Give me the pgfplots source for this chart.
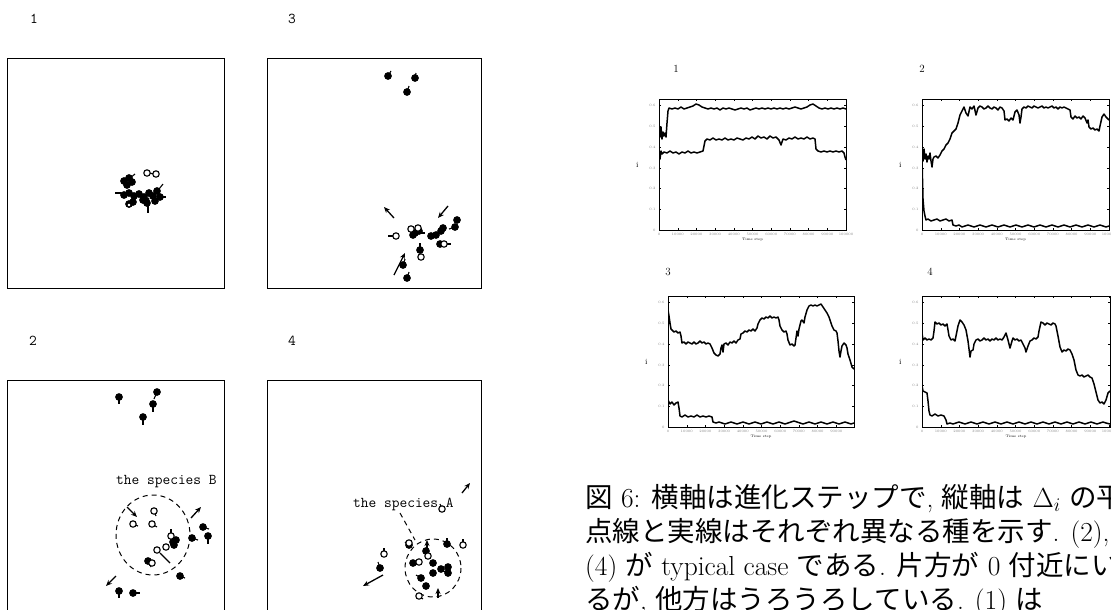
\RequirePackage{fix-cm}
\documentclass[border=0pt]{standalone}
\usepackage{fontspec}
\usepackage{pgfplots}
\pgfplotsset{compat=1.18}
\usetikzlibrary{arrows.meta}
\newfontfamily\cjk{Noto Sans CJK JP}
\newcommand\capfont{\fontsize{27.5}{30}\selectfont}
\pgfplotsset{
  leftpanel/.style={scale only axis, anchor=north west, y dir=reverse, ticks=none,
    axis line style={line width=1pt}, clip=false},
  fil/.style={only marks, mark=*, mark size=3.6pt, mark options={fill=black, draw=black}},
  opn/.style={only marks, mark=*, mark size=3.2pt, mark options={fill=white, draw=black, line width=1.1pt}},
  tail/.style={black, line width=1.1pt, quiver={u=\thisrow{u}, v=\thisrow{v}}},
  arr/.style={black, line width=1.3pt, quiver={u=\thisrow{u}, v=\thisrow{v}}, -{Stealth[length=6pt,width=5pt]}},
  ser/.style={black, line width=1.5pt, line join=round, mark=none},
  rightpanel/.style={scale only axis, anchor=north west, y dir=reverse, xmin=0, ymin=0, ymax=131,
    axis line style={line width=0.8pt}, tick align=inside, major tick length=2pt,
    tick style={line width=0.4pt, black},
    xtick={0,18.7,37.4,56.1,74.8,93.5,112.2,130.9,149.6,168.3,187},
    xticklabels={0,10000,20000,30000,40000,50000,60000,70000,80000,90000,100000},
    ytick={6,27,48,69,89,110,131},
    yticklabels={0.6,0.5,0.4,0.3,0.2,0.1,0},
    ticklabel style={font=\fontsize{3.5}{3.5}\selectfont, text=gray},
    xlabel={Time step}, xlabel style={font=\fontsize{3.5}{3.5}\selectfont, yshift=5pt},
    ylabel={i}, ylabel style={rotate=-90, font=\fontsize{8}{8}\selectfont, xshift=-4pt}},
}
\begin{document}
\begin{tikzpicture}
\path[use as bounding box] (0pt,0pt) rectangle (1111pt,-610pt);
\clip (0pt,0pt) rectangle (1111pt,-610pt);

% panel labels
\node[font=\ttfamily\fontsize{15}{15}\selectfont] at (34pt,-19pt) {1};
\node[font=\ttfamily\fontsize{15}{15}\selectfont] at (292pt,-19pt) {3};
\node[font=\ttfamily\fontsize{15}{15}\selectfont] at (33pt,-341pt) {2};
\node[font=\ttfamily\fontsize{15}{15}\selectfont] at (292pt,-341pt) {4};
\node[font=\fontsize{11}{11}\selectfont] at (676pt,-69pt) {1};
\node[font=\fontsize{11}{11}\selectfont] at (922pt,-69pt) {2};
\node[font=\fontsize{11}{11}\selectfont] at (668pt,-272pt) {3};
\node[font=\fontsize{11}{11}\selectfont] at (930pt,-272pt) {4};

% ---------- panel 1 ----------
\begin{axis}[leftpanel, at={(8pt,-58pt)}, width=216pt, height=230pt,
  xmin=8, xmax=224, ymin=58, ymax=288]
\addplot[tail] table[row sep=\\]{x y u v\\ 147 173 9 1\\ 130 178 5 -4\\ 148 204 0 9\\ 159 189 4 -5\\ 121 193 -6 0\\ 161 197 5 0\\ 131 204 -4 2\\};
\addplot[fil] table[row sep=\\]{x y\\ 124 181\\ 129 178\\ 127 185\\ 132 182\\ 124 195\\ 129 193\\ 134 196\\ 139 194\\ 144 197\\ 149 193\\ 153 196\\ 157 191\\ 160 197\\ 155 201\\ 147 203\\ 143 200\\ 129 204\\ 133 202\\};
\addplot[opn] table[row sep=\\]{x y\\ 147 173\\ 156 174\\};
\addplot[opn, mark size=2pt] table[row sep=\\]{x y\\ 129 205\\};
\addplot[opn, mark size=1.3pt, mark options={line width=0.5pt}] table[row sep=\\]{x y\\ 148 199\\};
\end{axis}

% ---------- panel 3 ----------
\begin{axis}[leftpanel, at={(267pt,-58pt)}, width=214pt, height=230pt,
  xmin=267, xmax=481, ymin=58, ymax=288]
\addplot[tail] table[row sep=\\]{x y u v\\ 388 76 3 -5\\ 415 78 1 -5\\ 407 92 2 -6\\ 396 236 -8 0\\ 444 244 7 0\\ 455 227 -6 2\\ 420 250 0 -7\\ 407 278 2 -6\\ 403 265 2 -6\\ 425 233 -6 0\\};
\addplot[arr] table[row sep=\\]{x y u v\\ 394 218 -10 -11\\ 448 206 -10 12\\ 394 275 11 -22\\};
\addplot[fil] table[row sep=\\]{x y\\ 388 76\\ 415 78\\ 407 92\\ 415 233\\ 419 231\\ 413 235\\ 431 236\\ 436 235\\ 441 231\\ 443 228\\ 440 244\\ 457 220\\ 455 227\\ 420 250\\ 403 265\\ 407 278\\};
\addplot[opn] table[row sep=\\]{x y\\ 396 236\\ 411 229\\ 418 228\\ 444 244\\ 421 257\\};
\end{axis}

% ---------- panel 2 ----------
\begin{axis}[leftpanel, at={(8pt,-380pt)}, width=216pt, height=234pt,
  xmin=8, xmax=224, ymin=380, ymax=614]
\draw[dashed, line width=1pt, dash pattern=on 5pt off 4pt] (axis cs:153,535) ellipse [x radius=37, y radius=40];
\node[font=\ttfamily\fontsize{15}{15}\selectfont, anchor=west, inner sep=0] at (axis cs:116,482) {the species B};
\addplot[tail] table[row sep=\\]{x y u v\\ 119 397 0 7\\ 157 392 -3 7\\ 153 404 0 8\\ 143 417 0 8\\ 154 511 2 5\\ 133 524 5 2\\ 152 524 5 3\\ 160 553 10 10\\ 171 536 0 -7\\ 192 538 6 2\\ 203 527 6 2\\ 208 536 0 8\\ 148 561 3 6\\ 180 576 5 2\\ 119 591 0 7\\ 133 593 7 0\\};
\addplot[arr] table[row sep=\\]{x y u v\\ 127 507 10 10\\ 191 518 10 -11\\ 116 576 -10 10\\};
\addplot[fil] table[row sep=\\]{x y\\ 119 397\\ 157 392\\ 153 404\\ 143 417\\ 173 542\\ 176 540\\ 174 545\\ 192 538\\ 203 527\\ 208 536\\ 148 561\\ 180 576\\ 119 591\\ 133 593\\};
\addplot[opn] table[row sep=\\]{x y\\ 154 511\\ 133 524\\ 152 524\\ 157 550\\ 166 547\\ 171 536\\ 152 563\\};
\end{axis}

% ---------- panel 4 ----------
\begin{axis}[leftpanel, at={(267pt,-380pt)}, width=214pt, height=234pt,
  xmin=267, xmax=481, ymin=380, ymax=614]
\draw[dashed, line width=1pt, dash pattern=on 5pt off 4pt] (axis cs:433,568) ellipse [x radius=28, y radius=29];
\draw[dashed, line width=1pt, dash pattern=on 5pt off 4pt] (axis cs:400,513) -- (axis cs:415,540);
\node[font=\ttfamily\fontsize{15}{15}\selectfont, anchor=west, inner sep=0] at (axis cs:353,504) {the species A};
\addplot[tail] table[row sep=\\]{x y u v\\ 442 509 -2 -5\\ 463 545 0 -6\\ 384 554 0 -6\\ 419 596 4 3\\ 428 556 -3 -5\\ 380 568 -2 -6\\ 409 545 -4 -3\\ 447 544 0 -6\\ 421 578 -5 -3\\ 441 569 4 3\\};
\addplot[arr] table[row sep=\\]{x y u v\\ 462 493 8 -10\\ 383 575 -20 11\\ 427 550 0 -10\\ 438 598 0 -10\\};
\addplot[fil] table[row sep=\\]{x y\\ 380 568\\ 409 545\\ 447 544\\ 426 551\\ 413 563\\ 433 563\\ 433 573\\ 441 569\\ 448 567\\ 448 573\\ 421 578\\ 426 586\\};
\addplot[opn] table[row sep=\\]{x y\\ 442 509\\ 463 545\\ 384 554\\ 419 596\\ 428 556\\ 419 562\\ 409 543\\};
\end{axis}

% ---------- right panel 1 ----------
\begin{axis}[rightpanel, at={(659pt,-99pt)}, width=187pt, height=131pt, xmax=187]
\addplot[ser] coordinates {(0,30)(1,38)(2,28)(3,40)(4,33)(5,37)(6,34)(7,38)(8,24)(9,12)(10,9)(13,10)(16,9)(19,10)(22,8)(25,10)(28,9)(31,8)(34,7)(37,5)(40,6)(43,8)(46,9)(49,10)(52,9)(55,10)(58,9)(61,11)(64,9)(67,10)(70,9)(73,10)(76,11)(79,10)(82,9)(85,10)(88,9)(91,11)(94,10)(97,9)(100,10)(103,9)(106,10)(109,9)(112,10)(115,9)(118,10)(121,9)(124,10)(127,9)(130,10)(133,9)(136,8)(139,9)(142,10)(145,9)(148,8)(151,6)(154,5)(157,7)(160,9)(163,10)(166,9)(169,10)(172,9)(175,10)(178,9)(181,10)(184,9)(187,10)};
\addplot[ser] coordinates {(0,50)(1,60)(2,52)(3,55)(5,53)(8,54)(11,52)(14,54)(17,53)(20,55)(23,53)(26,54)(29,52)(32,54)(35,53)(38,54)(41,53)(44,52)(46,42)(48,40)(51,41)(54,39)(57,41)(60,40)(63,41)(66,39)(69,41)(72,40)(75,41)(78,39)(81,40)(84,41)(87,39)(90,40)(93,38)(96,40)(99,37)(102,39)(105,38)(108,40)(111,37)(114,39)(117,38)(120,41)(122,46)(124,40)(127,41)(130,39)(133,40)(136,38)(139,40)(142,39)(145,40)(148,38)(151,40)(154,39)(156,40)(157,50)(159,52)(162,53)(165,52)(168,53)(171,52)(174,53)(177,52)(180,53)(183,52)(185,54)(186,58)(187,61)};
\end{axis}

% ---------- right panel 2 ----------
\begin{axis}[rightpanel, at={(922pt,-99pt)}, width=187pt, height=131pt, xmax=187]
\addplot[ser] coordinates {(0,56)(1,62)(2,50)(3,60)(4,55)(5,63)(6,57)(7,60)(8,54)(9,62)(10,68)(11,60)(12,58)(14,57)(16,59)(18,56)(20,52)(22,50)(24,46)(26,44)(28,40)(30,34)(32,32)(34,30)(36,24)(38,16)(40,12)(42,8)(44,14)(46,17)(48,8)(50,10)(52,7)(54,16)(56,9)(58,7)(60,8)(62,10)(64,9)(66,7)(68,9)(70,10)(72,8)(74,9)(76,11)(78,8)(80,9)(82,12)(83,21)(85,20)(87,22)(89,19)(91,21)(93,13)(95,11)(97,16)(98,24)(99,18)(100,10)(102,8)(104,9)(106,7)(108,8)(110,9)(112,7)(114,8)(116,9)(118,8)(120,7)(122,9)(124,8)(126,9)(128,8)(130,7)(132,9)(134,8)(136,10)(138,8)(140,9)(142,8)(144,9)(146,10)(148,11)(149,18)(151,20)(153,17)(155,19)(157,18)(159,20)(161,17)(163,19)(165,24)(166,21)(167,28)(169,30)(171,29)(173,31)(175,30)(177,32)(178,27)(180,18)(182,15)(184,18)(186,20)(187,21)};
\addplot[ser] coordinates {(0,60)(1,100)(2,112)(3,117)(4,121)(6,120)(9,122)(12,121)(15,120)(18,122)(21,121)(24,120)(27,122)(30,121)(31,126)(34,127)(37,126)(40,128)(43,127)(46,126)(49,127)(52,128)(55,127)(58,126)(61,127)(64,128)(67,127)(70,126)(73,127)(76,128)(79,127)(82,126)(85,127)(88,128)(91,127)(94,126)(97,127)(100,128)(103,127)(106,126)(109,127)(112,128)(115,127)(118,126)(121,127)(124,128)(127,127)(130,126)(133,127)(136,128)(139,127)(142,126)(145,127)(148,128)(151,127)(154,126)(157,127)(160,128)(163,127)(166,126)(169,127)(172,128)(175,127)(178,126)(181,127)(184,128)(187,127)};
\end{axis}

% ---------- right panel 3 ----------
\begin{axis}[rightpanel, at={(668pt,-296pt)}, width=186pt, height=131pt, xmax=186]
\addplot[ser] coordinates {(0,14)(1,20)(2,27)(3,33)(4,34)(6,36)(8,35)(10,37)(12,36)(13,40)(14,47)(16,46)(18,48)(20,46)(22,47)(24,48)(26,46)(28,48)(30,47)(32,45)(34,47)(36,46)(38,48)(40,47)(42,48)(44,52)(46,57)(48,59)(50,60)(52,58)(53,52)(54,49)(55,56)(56,48)(58,47)(60,49)(62,46)(64,47)(66,45)(68,47)(70,44)(72,43)(73,38)(75,37)(77,35)(79,36)(81,34)(83,35)(85,33)(87,35)(89,32)(90,28)(92,24)(94,22)(96,23)(98,21)(100,22)(102,20)(104,22)(106,21)(108,22)(110,21)(111,24)(112,30)(114,34)(116,36)(118,35)(119,38)(120,44)(122,49)(124,48)(126,50)(127,49)(128,42)(129,35)(130,40)(131,33)(133,25)(134,24)(136,27)(137,21)(139,14)(141,10)(143,9)(145,10)(147,9)(149,10)(151,9)(153,8)(155,11)(157,14)(159,17)(161,21)(162,24)(164,30)(166,34)(168,35)(169,37)(170,45)(171,55)(172,61)(173,55)(174,50)(176,47)(178,49)(179,52)(180,58)(182,64)(184,71)(185,72)(186,73)};
\addplot[ser] coordinates {(0,104)(2,108)(4,106)(6,109)(8,107)(10,106)(11,112)(12,120)(14,121)(17,119)(20,121)(23,120)(26,121)(29,119)(32,121)(35,120)(38,121)(41,120)(44,121)(45,126)(48,127)(51,126)(54,127)(57,128)(60,127)(63,126)(66,127)(69,128)(72,127)(75,126)(78,127)(81,128)(84,127)(87,126)(90,127)(93,128)(96,127)(99,126)(102,127)(105,128)(108,127)(111,126)(114,127)(117,128)(120,127)(123,126)(126,125)(129,126)(132,127)(135,128)(138,127)(141,126)(144,127)(147,128)(150,127)(153,126)(156,127)(159,128)(162,127)(165,126)(168,127)(171,128)(174,127)(177,126)(180,127)(183,128)(186,127)};
\end{axis}

% ---------- right panel 4 ----------
\begin{axis}[rightpanel, at={(922pt,-296pt)}, width=188pt, height=131pt, xmax=188]
\addplot[ser] coordinates {(0,37)(1,44)(3,42)(5,44)(7,43)(9,44)(11,42)(12,35)(13,26)(15,28)(17,27)(19,29)(21,28)(23,30)(25,28)(26,34)(27,40)(29,44)(31,43)(33,45)(34,40)(36,30)(38,24)(40,26)(42,29)(44,34)(46,45)(48,61)(49,55)(51,54)(52,48)(54,44)(56,43)(58,45)(60,44)(62,42)(64,44)(66,43)(68,45)(70,43)(72,44)(74,42)(76,44)(78,43)(80,44)(82,41)(84,37)(86,44)(88,52)(90,45)(91,42)(93,44)(95,43)(97,45)(99,44)(101,48)(103,52)(104,56)(106,50)(108,45)(110,44)(112,42)(114,43)(116,41)(117,35)(119,26)(121,27)(123,29)(125,27)(127,28)(129,29)(131,27)(133,28)(134,30)(136,40)(138,51)(140,56)(142,54)(144,55)(146,53)(148,54)(150,58)(152,64)(154,74)(156,79)(158,80)(160,79)(162,81)(164,80)(166,79)(168,81)(170,82)(172,88)(174,96)(176,104)(178,107)(180,106)(182,108)(184,104)(186,97)(188,95)};
\addplot[ser] coordinates {(0,90)(1,95)(3,96)(5,97)(6,105)(7,115)(8,119)(10,120)(13,118)(16,120)(19,119)(22,120)(24,124)(25,128)(28,127)(31,128)(34,127)(37,126)(40,127)(43,128)(46,127)(49,126)(52,127)(55,128)(58,127)(61,126)(64,127)(67,128)(70,127)(73,126)(76,127)(79,128)(82,127)(85,126)(88,127)(91,128)(94,127)(97,126)(100,127)(103,128)(106,127)(109,126)(112,127)(115,128)(118,127)(121,126)(124,127)(127,128)(130,127)(133,126)(136,127)(139,128)(142,127)(145,126)(148,127)(151,128)(154,127)(157,126)(160,127)(163,128)(166,127)(169,126)(172,127)(175,128)(178,127)(181,126)(184,127)(188,128)};
\end{axis}

% ---------- caption ----------
\node[anchor=base west, inner sep=0] at (585pt,-507pt) {\capfont{\cjk 図} 6: {\cjk 横軸は進化ステップで}, {\cjk 縦軸は} $\Delta_i$ {\cjk の平均を示す}.};
\node[anchor=base west, inner sep=0] at (585pt,-541pt) {\capfont{\cjk 点線と実線はそれぞれ異なる種を示す}. (2), (3),};
\node[anchor=base west, inner sep=0] at (585pt,-575pt) {\capfont(4) {\cjk が} typical case {\cjk である}. {\cjk 片方が} 0 {\cjk 付近にい}};
\node[anchor=base west, inner sep=0] at (585pt,-609pt) {\capfont{\cjk るが}, {\cjk 他方はうろうろしている}. (1) {\cjk は}};
\end{tikzpicture}
\end{document}
